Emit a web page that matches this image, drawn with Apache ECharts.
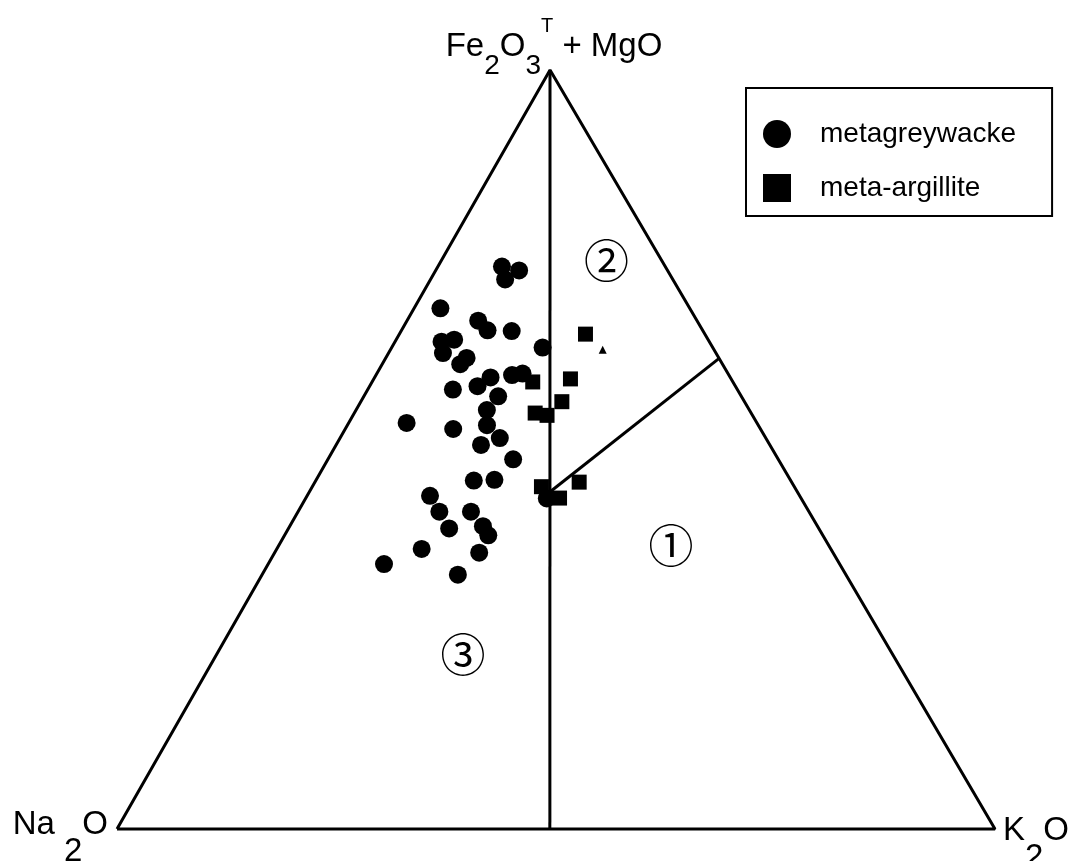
<!DOCTYPE html>
<html>
<head>
<meta charset="utf-8">
<script src="https://cdn.jsdelivr.net/npm/echarts@6/dist/echarts.min.js"></script>
<style>
html,body{margin:0;padding:0;background:#fff;}
#chart{width:1078px;height:861px;}
</style>
</head>
<body>
<div id="chart"></div>
<script>
// Ternary values: [Na2O, K2O, Fe2O3T+MgO] in percent
const metagreywacke = [
  [18.6, 7.3, 74.1], [16.9, 9.5, 73.6], [19.1, 8.5, 72.4], [28.4, 3.0, 68.6],
  [24.9, 8.1, 66.9], [24.5, 9.8, 65.7], [21.8, 12.6, 65.6], [30.5, 5.3, 64.2],
  [28.9, 6.6, 64.4], [31.1, 6.2, 62.7], [28.7, 9.2, 62.0], [29.9, 8.9, 61.3],
  [19.4, 17.2, 63.5], [27.3, 13.2, 59.5], [29.4, 12.3, 58.4], [24.7, 15.5, 59.8],
  [23.4, 16.6, 60.0], [32.4, 9.7, 57.9], [27.7, 15.3, 57.0], [29.9, 14.9, 55.2],
  [30.9, 15.9, 53.2], [39.9, 6.6, 53.5], [35.0, 12.3, 52.7], [30.3, 18.2, 51.5],
  [32.9, 16.5, 50.6], [30.2, 21.1, 48.7], [36.1, 18.0, 45.9], [33.7, 20.3, 46.0],
  [42.1, 14.0, 43.9], [42.1, 16.1, 41.8], [38.5, 19.7, 41.8], [42.1, 18.3, 39.6],
  [38.1, 22.0, 39.9], [38.1, 23.2, 38.7], [46.6, 16.5, 36.9], [51.9, 13.2, 34.9],
  [40.3, 23.3, 36.4], [44.2, 22.3, 33.5], [29.0, 27.5, 43.6]
];
const metaArgillite = [
  [13.6, 21.2, 65.2], [18.3, 22.4, 59.3], [22.8, 18.3, 58.9], [20.8, 22.9, 56.3],
  [24.6, 20.6, 54.8], [23.4, 22.1, 54.5], [28.8, 26.1, 45.1], [24.2, 30.1, 45.7],
  [27.5, 28.9, 43.6]
];
const otherMark = [[12.7, 24.2, 63.2]];

// Diagram frame and field boundaries
const triangleFrame = [[100, 0, 0], [0, 100, 0], [0, 0, 100], [100, 0, 0]];
const boundaryLines = [
  [[0, 0, 100], [50.7, 49.3, 0]],
  [[28.2, 27.4, 44.4], [0, 38, 62]]
];
const fieldLabels = ['①', '②', '③'];
const fieldPositions = [[18.0, 44.7, 37.3], [6.3, 18.8, 74.9], [49.0, 28.1, 22.9]];
const vertexNames = ['Na2O', 'K2O', 'Fe2O3T+MgO'];
const vertexPositions = [[100, 0, 0], [0, 100, 0], [0, 0, 100]];

// Apex horizontal position (fraction of base) in the scanned original
const APEX = 0.4932;
function toXY(t) {
  const s = t[0] + t[1] + t[2];
  const b = t[1] / s, c = t[2] / s;
  return [b + APEX * c, c];
}

const FONT = "'Liberation Sans', 'Arial', sans-serif";
const lineStyle = { color: '#000', width: 3 };

const mainRich = {
  m: { fontSize: 33, lineHeight: 33, fontFamily: FONT, color: '#000', padding: [0, 0, 27, 0] },
  s: { fontSize: 33, lineHeight: 33, fontFamily: FONT, color: '#000', padding: [27, 0, 0, 0] }
};
const topRich = {
  m: { fontSize: 33, lineHeight: 33, fontFamily: FONT, color: '#000', padding: [14, 0, 22, 0] },
  s: { fontSize: 28, lineHeight: 28, fontFamily: FONT, color: '#000', padding: [36, 0, 5, 0] },
  t: { fontSize: 20, lineHeight: 20, fontFamily: FONT, color: '#000', padding: [0, 0, 49, 0] }
};
const vertexLabelCfg = [
  { position: 'left', distance: 9, offset: [0, 9], formatter: '{m|Na }{s|2}{m|O}', rich: mainRich },
  { position: 'right', distance: 8, offset: [0, 15], formatter: '{m|K}{s|2}{m|O}', rich: mainRich },
  { position: 'top', distance: 0, offset: [4, -3], formatter: '{m|Fe}{s|2}{m|O}{s|3}{t|T}{m| + MgO}', rich: topRich }
];

const series = [];
series.push({
  type: 'line', name: 'frame', data: triangleFrame.map(toXY), showSymbol: false,
  lineStyle: lineStyle, silent: true, clip: false, z: 1
});
boundaryLines.forEach((ln, i) => series.push({
  type: 'line', name: 'boundary' + i, data: ln.map(toXY), showSymbol: false,
  lineStyle: lineStyle, silent: true, clip: false, z: 1
}));
series.push({
  type: 'scatter', name: 'metagreywacke', symbol: 'circle', symbolSize: 18,
  itemStyle: { color: '#000', opacity: 1 }, data: metagreywacke.map(toXY), z: 3
});
series.push({
  type: 'scatter', name: 'meta-argillite', symbol: 'rect', symbolSize: 15,
  itemStyle: { color: '#000', opacity: 1 }, data: metaArgillite.map(toXY), z: 3
});
series.push({
  type: 'scatter', name: 'other', symbol: 'triangle', symbolSize: 8,
  itemStyle: { color: '#000', opacity: 1 }, data: otherMark.map(toXY), z: 3
});
series.push({
  type: 'scatter', name: 'fields', symbolSize: 0, silent: true,
  data: fieldPositions.map((p, i) => ({ value: toXY(p), name: fieldLabels[i] })),
  label: {
    show: true, position: 'inside', formatter: '{b}',
    fontSize: 45, fontWeight: 'normal', color: '#000', opacity: 1,
    fontFamily: "'Noto Sans CJK JP', 'DejaVu Sans', sans-serif"
  }
});
series.push({
  type: 'scatter', name: 'vertices', symbolSize: 0, silent: true,
  data: vertexPositions.map((p, i) => ({
    value: toXY(p), name: vertexNames[i],
    label: Object.assign({ show: true, color: '#000', opacity: 1 }, vertexLabelCfg[i])
  }))
});

const chart = echarts.init(document.getElementById('chart'), null, { renderer: 'canvas' });
chart.setOption({
  backgroundColor: '#fff',
  animation: false,
  grid: { left: 117, right: 83, top: 70, bottom: 32 },
  xAxis: { type: 'value', min: 0, max: 1, show: false },
  yAxis: { type: 'value', min: 0, max: 1, show: false },
  legend: {
    data: ['metagreywacke', 'meta-argillite'],
    orient: 'vertical', left: 746, top: 88,
    itemWidth: 28, itemHeight: 28, itemGap: 24,
    padding: [31, 36, 13, 17],
    borderColor: '#000', borderWidth: 2, borderRadius: 0,
    itemStyle: { opacity: 1 },
    textStyle: { fontSize: 28, lineHeight: 30, fontFamily: FONT, color: '#000', padding: [0, 0, 0, 24] },
    selectedMode: false
  },
  series: series
});
</script>
</body>
</html>
